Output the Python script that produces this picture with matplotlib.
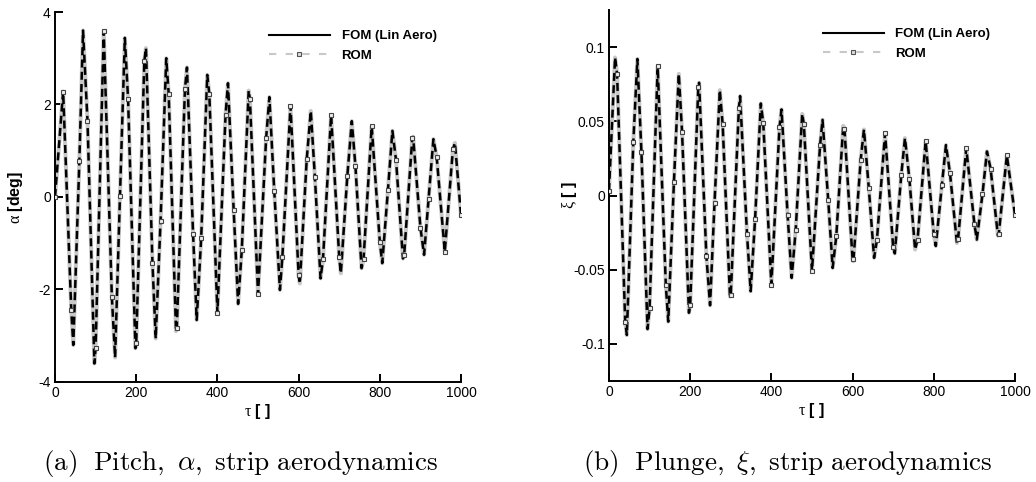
import matplotlib
matplotlib.use("Agg")  # no display
import matplotlib.pyplot as plt
from matplotlib.lines import Line2D

plt.rcParams["font.family"] = ["Liberation Sans", "DejaVu Sans"]
plt.rcParams["axes.unicode_minus"] = False
plt.rcParams["mathtext.fontset"] = "custom"
plt.rcParams["mathtext.rm"] = "Liberation Serif"
plt.rcParams["mathtext.it"] = "Liberation Serif"
plt.rcParams["mathtext.bf"] = "Liberation Serif:bold"

# --- pitch response (extrema + ROM marker samples every 20) ---
tau_a = [0, 20, 40, 45, 60, 69, 80, 97, 100, 120,
         140, 148, 160, 172, 180, 198, 200, 220, 224, 240,
         248, 260, 274, 280, 298, 300, 320, 325, 340, 349,
         360, 375, 380, 400, 420, 426, 440, 451, 460, 477,
         480, 500, 520, 528, 540, 554, 560, 580, 600, 603,
         620, 630, 640, 654, 660, 680, 700, 704, 720, 731,
         740, 755, 760, 780, 800, 806, 820, 831, 840, 857,
         860, 880, 882, 900, 909, 920, 932, 940, 960, 980,
         985, 1000]
alpha = [0.0, 2.28, -2.44, -3.2, 0.78, 3.6, 1.65, -3.6, -3.27, 3.58,
         -2.16, -3.47, 0.03, 3.44, 2.11, -3.27, -3.16, 2.94, 3.22, -1.42,
         -3.06, -0.51, 3.0, 2.23, -2.9, -2.84, 2.33, 2.8, -0.79, -2.66,
         -0.89, 2.64, 2.23, -2.5, 1.77, 2.46, -0.28, -2.31, -1.15, 2.3,
         2.12, -2.1, 1.27, 2.16, 0.13, -2.01, -1.29, 1.97, -1.69, -1.87,
         0.82, 1.86, 0.44, -1.76, -1.35, 1.77, -1.3, -1.65, 0.46, 1.64,
         0.66, -1.54, -1.33, 1.53, -0.97, -1.43, 0.15, 1.43, 0.79, -1.33,
         -1.25, 1.28, 1.3, -0.66, -1.25, -0.05, 1.25, 0.87, -1.18, 1.03,
         1.17, -0.4]

# --- plunge response ---
tau_x = [0, 15, 20, 40, 44, 60, 70, 80, 95, 100,
         120, 140, 146, 160, 172, 180, 197, 200, 220, 222,
         240, 249, 260, 273, 280, 298, 300, 320, 323, 340,
         349, 360, 374, 380, 400, 420, 425, 440, 450, 460,
         476, 480, 500, 520, 526, 540, 551, 560, 577, 580,
         600, 602, 620, 628, 640, 653, 660, 680, 700, 704,
         720, 729, 740, 754, 760, 780, 800, 805, 820, 830,
         840, 857, 860, 880, 900, 906, 920, 931, 940, 958,
         960, 980, 1000]
xi = [0.003, 0.093, 0.082, -0.085, -0.094, 0.036, 0.092, 0.029, -0.090, -0.076,
      0.087, -0.060, -0.085, 0.009, 0.082, 0.043, -0.079, -0.074, 0.073, 0.076,
      -0.041, -0.074, -0.005, 0.071, 0.048, -0.068, -0.067, 0.059, 0.067, -0.026,
      -0.0645, -0.0155, 0.062, 0.049, -0.060, 0.046, 0.058, -0.013, -0.0555, -0.023,
      0.055, 0.048, -0.051, 0.034, 0.051, -0.003, -0.0488, -0.027, 0.047, 0.045,
      -0.043, -0.0443, 0.024, 0.0445, 0.005, -0.042, -0.030, 0.042, -0.035, -0.039,
      0.014, 0.0387, 0.011, -0.0364, -0.030, 0.0367, -0.026, -0.034, 0.007, 0.034,
      0.015, -0.032, -0.029, 0.032, -0.019, -0.0297, 0.001, 0.0297, 0.018, -0.027,
      -0.026, 0.027, -0.013]

x_ticks = [0, 200, 400, 600, 800, 1000]
alpha_ticks = [-4, -2, 0, 2, 4]
alpha_tick_labels = ["-4", "-2", "0", "2", "4"]
xi_ticks = [-0.1, -0.05, 0, 0.05, 0.1]
xi_tick_labels = ["-0.1", "-0.05", "0", "0.05", "0.1"]
legend_labels = ["FOM (Lin Aero)", "ROM"]

ROM_GRAY = "#c8c8c8"
MARK_EVERY = 20  # ROM symbols every 20 time units


def _draw_panel(ax, tau, vals, ylim, yticks, yticklabels, ylabel):
    marks = [i for i, t in enumerate(tau) if t % MARK_EVERY == 0]
    # ROM in gray underneath, FOM shows through as black dashes
    ax.plot(tau, vals, color=ROM_GRAY, lw=2.9, solid_joinstyle="round", zorder=2)
    ax.plot(tau, vals, color="black", lw=1.8, dashes=(3.2, 1.7),
            dash_joinstyle="round", zorder=3)
    ax.plot([tau[i] for i in marks], [vals[i] for i in marks], ls="none",
            marker="s", ms=3.5, mfc="#eeeeee", mec="#444444", mew=0.8, zorder=4)

    ax.set_xlim(0, 1000)
    ax.set_ylim(*ylim)
    ax.set_xticks(x_ticks)
    ax.set_xticklabels([str(t) for t in x_ticks])
    ax.set_yticks(yticks)
    ax.set_yticklabels(yticklabels)
    ax.tick_params(direction="in", length=5.5, width=1.4, labelsize=10, pad=3)
    for side in ("top", "right"):
        ax.spines[side].set_visible(False)
    for side in ("left", "bottom"):
        ax.spines[side].set_linewidth(1.4)

    ax.set_xlabel(r"$\tau$ [ ]", fontsize=11.5, fontweight="bold", labelpad=1)
    ax.set_ylabel(ylabel, fontsize=11.5, fontweight="bold")
    ax.yaxis.set_label_coords(-0.074, 0.5)

    fom_h = Line2D([], [], color="black", lw=1.5)
    rom_h = Line2D([], [], color=ROM_GRAY, lw=1.5, dashes=(3.5, 4.5), marker="s",
                   ms=3.2, mfc="#dddddd", mec="#555555", mew=0.8)
    ax.legend([fom_h, rom_h], legend_labels, loc="upper left",
              bbox_to_anchor=(0.527, 0.951), frameon=False,
              prop={"weight": "bold", "size": 9.5}, handlelength=4.6,
              handletextpad=0.9, labelspacing=0.55, borderpad=0, borderaxespad=0)


fig = plt.figure(figsize=(10.36, 4.82), dpi=100)
ax_a = fig.add_axes([0.0531, 0.2075, 0.3919, 0.7676])
ax_x = fig.add_axes([0.5878, 0.2095, 0.3919, 0.7697])

_draw_panel(ax_a, tau_a, alpha, (-4, 4), alpha_ticks, alpha_tick_labels,
            r"$\alpha$ [deg]")
_draw_panel(ax_x, tau_x, xi, (-0.125, 0.125), xi_ticks, xi_tick_labels,
            r"$\xi$ [ ]")

fig.text(0.2326, 0.039, r"$\mathrm{(a)\ \ Pitch,}\ \alpha\mathrm{,\ strip\ aerodynamics}$",
         ha="center", va="center", fontsize=19.5, math_fontfamily="cm")
fig.text(0.760, 0.039, r"$\mathrm{(b)\ \ Plunge,}\ \xi\mathrm{,\ strip\ aerodynamics}$",
         ha="center", va="center", fontsize=19.5, math_fontfamily="cm")

fig.savefig("out.png", dpi=100)
plt.close(fig)
